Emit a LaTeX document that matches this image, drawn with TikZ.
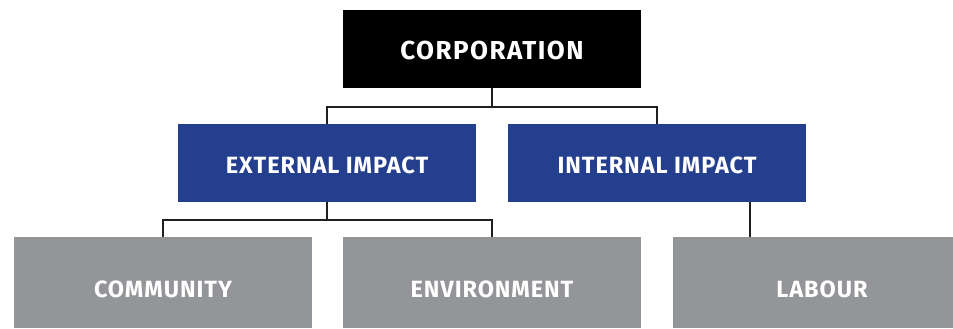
\documentclass[tikz,border=0pt]{standalone}
\usepackage{fontspec}
\setmainfont{Fira Sans}[LetterSpace=4]
\newfontfamily\corpfont{Fira Sans}[LetterSpace=5.5]
\definecolor{corpblack}{HTML}{000000}
\definecolor{impblue}{HTML}{253F8F}
\definecolor{boxgray}{HTML}{939598}
\definecolor{linecol}{HTML}{231F20}
\begin{document}
\begin{tikzpicture}[x=1pt,y=-1pt,
  box/.style={minimum width=298pt, inner sep=0pt, text=white, text depth=0pt,
    font=\fontsize{23.5}{26}\selectfont\bfseries},
  topbox/.style={box, fill=corpblack, minimum height=78pt, text height=21.9pt,
    font=\fontsize{26}{28}\corpfont\bfseries},
  midbox/.style={box, fill=impblue, minimum height=78pt, text height=20.2pt},
  lowbox/.style={box, fill=boxgray, minimum height=91pt, text height=29.2pt},
  conn/.style={draw=linecol, line width=2pt}]
\useasboundingbox (0,0) rectangle (953,329);
\clip (0,0) rectangle (953,329);
\node[topbox] (corp) at (492,49) {CORPORATION};
\node[midbox] (ext) at (327,163) {EXTERNAL IMPACT};
\node[midbox] (int) at (657,163) {INTERNAL IMPACT};
\node[lowbox] (comm) at (163,282.5) {COMMUNITY};
\node[lowbox] (env) at (492,282.5) {ENVIRONMENT};
\node[lowbox] (lab) at (822,282.5) {LABOUR};
\coordinate (lt) at (750,237);
\draw[conn] (corp.south) -- ++(0,19) -| (ext.north);
\draw[conn] (corp.south) ++(0,19) -| (int.north);
\draw[conn] (ext.south) -- ++(0,18) -| (comm.north);
\draw[conn] (ext.south) ++(0,18) -| (env.north);
\draw[conn] (lt |- int.south) -- (lt);
\end{tikzpicture}
\end{document}
